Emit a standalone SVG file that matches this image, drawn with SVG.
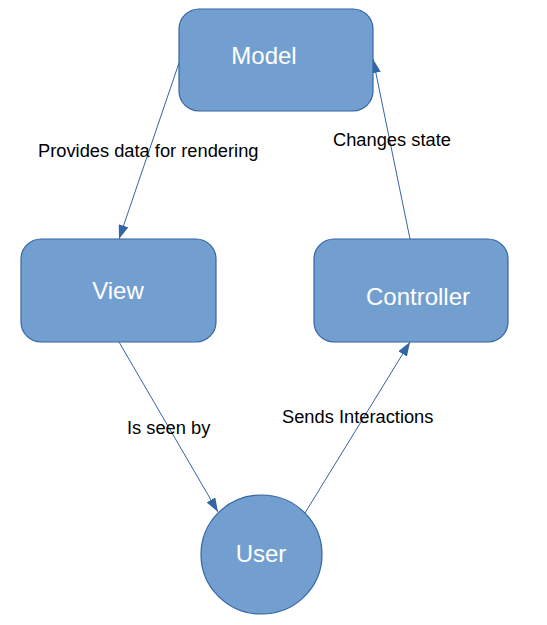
<svg xmlns="http://www.w3.org/2000/svg" width="547" height="625" viewBox="0 0 547 625">
<style>
.node{fill:#729fcf;stroke:#3465a4;stroke-width:1.2}
.nt{font-family:"Liberation Sans",Arial,sans-serif;font-size:24px;fill:#fff;text-anchor:middle}
.lb{font-family:"Liberation Sans",Arial,sans-serif;font-size:18.3px;fill:#000}
.edge{stroke:#3465a4;stroke-width:1;fill:none;marker-end:url(#ah)}
</style>
<defs>
<marker id="ah" markerWidth="14" markerHeight="10" refX="14" refY="5" orient="auto" markerUnits="userSpaceOnUse">
<path d="M0,0 L14,5 L0,10 Z" fill="#3465a4"/>
</marker>
</defs>
<rect width="547" height="625" fill="#fff"/>
<g id="edges">
<line class="edge" x1="179" y1="63" x2="119" y2="239"/>
<line class="edge" x1="410" y1="239" x2="373" y2="59"/>
<line class="edge" x1="119" y1="342" x2="218" y2="512"/>
<line class="edge" x1="305" y1="513" x2="410" y2="342"/>
<text class="lb" x="38" y="157">Provides data for rendering</text>
<text class="lb" x="333" y="146">Changes state</text>
<text class="lb" x="127" y="434">Is seen by</text>
<text class="lb" x="282" y="423">Sends Interactions</text>
</g>
<g id="model">
<rect class="node" x="179" y="9" width="194" height="102" rx="20"/>
<text class="nt" x="264" y="64">Model</text>
</g>
<g id="view">
<rect class="node" x="21" y="239" width="195" height="103" rx="20"/>
<text class="nt" x="118" y="299">View</text>
</g>
<g id="controller">
<rect class="node" x="314" y="239" width="194" height="103" rx="20"/>
<text class="nt" x="418" y="305">Controller</text>
</g>
<g id="user">
<ellipse class="node" cx="261.5" cy="554.5" rx="60.5" ry="59.5"/>
<text class="nt" x="261" y="562">User</text>
</g>
</svg>
